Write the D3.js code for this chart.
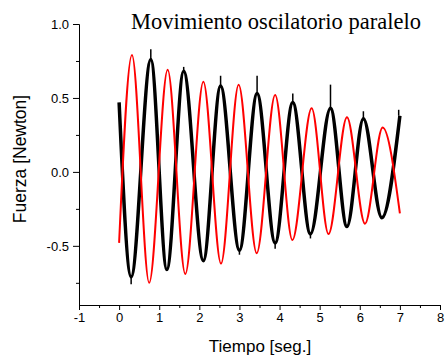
<!DOCTYPE html>
<html>
<head>
<meta charset="utf-8">
<script src="https://cdn.jsdelivr.net/npm/d3@7"></script>
<style>
  body { margin: 0; background: #fff; }
  svg { display: block; }
</style>
</head>
<body>
<script>
// values (turning points of each trace)
var redT   = [0, 0.32, 0.75, 1.21, 1.65, 2.10, 2.54, 2.98, 3.43, 3.89, 4.32, 4.80, 5.22, 5.68, 6.13, 6.57, 7.0];
var redF   = [-0.48, 0.79, -0.75, 0.69, -0.69, 0.61, -0.62, 0.59, -0.55, 0.52, -0.46, 0.43, -0.42, 0.37, -0.35, 0.30, -0.28];
var blackT = [0, 0.30, 0.79, 1.19, 1.61, 2.10, 2.53, 3.0, 3.44, 3.89, 4.33, 4.77, 5.27, 5.68, 6.09, 6.55, 7.0];
var blackF = [0.47, -0.71, 0.76, -0.66, 0.68, -0.60, 0.58, -0.53, 0.53, -0.48, 0.47, -0.42, 0.43, -0.37, 0.36, -0.31, 0.38];
// noise spikes on the black trace
var spikeT = [0.79, 1.61, 2.53, 3.44, 4.33, 5.27, 6.09, 6.97, 0.30, 3.0, 3.89, 4.77];
var spikeF = [0.83, 0.71, 0.65, 0.65, 0.53, 0.59, 0.41, 0.42, -0.76, -0.56, -0.52, -0.45];

var xTicks = [-1, 0, 1, 2, 3, 4, 5, 6, 7, 8];
var yTicks = [-0.5, 0.0, 0.5, 1.0];

var width = 445, height = 358;

// plain hyphen for negative numbers, like the original
var loc = d3.formatLocale({decimal: ".", thousands: ",", grouping: [3], currency: ["", ""], minus: "-"});

var x = d3.scaleLinear().domain([-1, 8]).range([79, 440]);
var y = d3.scaleLinear().domain([-0.9, 1.0]).range([305, 24]);

var svg = d3.select("body").append("svg")
    .attr("width", width)
    .attr("height", height);

// axes
var xAxis = d3.axisBottom(x).tickValues(xTicks).tickFormat(loc.format("d")).tickSizeInner(5).tickSizeOuter(0).tickPadding(3);
var xMinor = d3.axisBottom(x).tickValues(d3.range(-0.5, 8, 1)).tickFormat("").tickSizeInner(3).tickSizeOuter(0);
var yAxis = d3.axisLeft(y).tickValues(yTicks).tickFormat(loc.format(".1f")).tickSizeInner(6).tickSizeOuter(0).tickPadding(4);
var yMinor = d3.axisLeft(y).tickValues([-0.75, -0.25, 0.25, 0.75]).tickFormat("").tickSizeInner(3).tickSizeOuter(0);

svg.append("g").attr("transform", "translate(0,305)").call(xAxis);
svg.append("g").attr("transform", "translate(0,305)").call(xMinor);
svg.append("g").attr("transform", "translate(79,0)").call(yAxis);
svg.append("g").attr("transform", "translate(79,0)").call(yMinor);

svg.selectAll(".domain").attr("stroke", "#000").attr("stroke-width", 1);
svg.selectAll(".tick line").attr("stroke", "#000");
svg.selectAll(".tick text")
    .attr("fill", "#000")
    .style("font-family", "Liberation Sans, Arial, sans-serif")
    .style("font-size", "13px");

// traces
var line = d3.line()
    .x(function(d) { return x(d[0]); })
    .y(function(d) { return y(d[1]); })
    .curve(d3.curveMonotoneX);

var blackData = blackT.map(function(t, i) { return [t, blackF[i]]; });
var redData = redT.map(function(t, i) { return [t, redF[i]]; });

svg.append("path")
    .datum(blackData)
    .attr("fill", "none")
    .attr("stroke", "#000")
    .attr("stroke-width", 3.5)
    .attr("stroke-linejoin", "round")
    .attr("d", line);

svg.selectAll(".spike")
    .data(spikeT)
    .enter()
    .append("line")
    .attr("class", "spike")
    .attr("x1", function(t) { return x(t); })
    .attr("x2", function(t) { return x(t); })
    .attr("y1", function(t, i) { return y(spikeF[i]); })
    .attr("y2", function(t, i) {
        var k = d3.leastIndex(blackT, function(bt) { return Math.abs(bt - t); });
        return y(blackF[k]);
    })
    .attr("stroke", "#000")
    .attr("stroke-width", 1.5);

svg.append("path")
    .datum(redData)
    .attr("fill", "none")
    .attr("stroke", "#ff0000")
    .attr("stroke-width", 2)
    .attr("stroke-linejoin", "round")
    .attr("d", line);

// labels
svg.append("text")
    .attr("x", 131)
    .attr("y", 29)
    .style("font-family", "Liberation Serif, Times New Roman, serif")
    .style("font-size", "22.5px")
    .text("Movimiento oscilatorio paralelo");

svg.append("text")
    .attr("x", 260)
    .attr("y", 352)
    .attr("text-anchor", "middle")
    .style("font-family", "Liberation Sans, Arial, sans-serif")
    .style("font-size", "17px")
    .text("Tiempo [seg.]");

svg.append("text")
    .attr("transform", "translate(26,159) rotate(-90)")
    .attr("text-anchor", "middle")
    .style("font-family", "Liberation Sans, Arial, sans-serif")
    .style("font-size", "17.5px")
    .text("Fuerza [Newton]");
</script>
</body>
</html>
